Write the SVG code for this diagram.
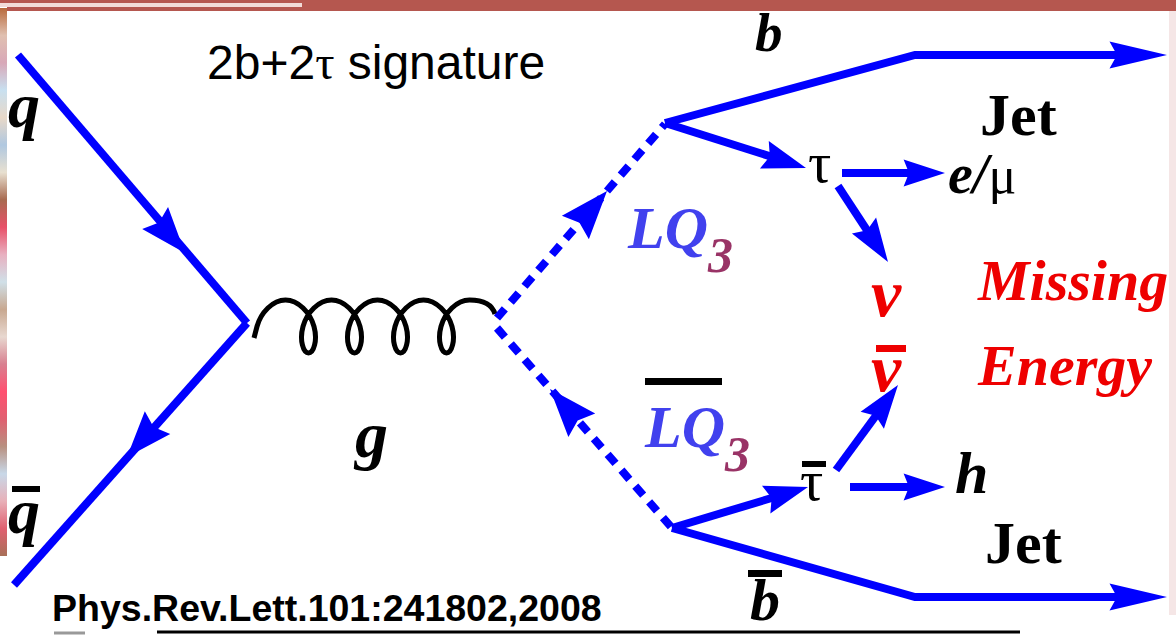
<svg xmlns="http://www.w3.org/2000/svg" width="1176" height="636" viewBox="0 0 1176 636">
<defs>
<style>
.ln{stroke:#0000ff;stroke-width:8;fill:none}
.ds{stroke:#0000ff;stroke-width:8;fill:none;stroke-dasharray:12 9}
.ah{fill:#0000ff}
.bi{font-family:"Liberation Serif",serif;font-weight:bold;font-style:italic;fill:#000}
.rd{fill:#ee0000}
.lq{font-family:"Liberation Serif",serif;font-style:italic;font-weight:bold;fill:#4141ee}
.sub{fill:#993366}
.tau{font-family:"Liberation Serif",serif;fill:#000}
.jet{font-family:"Liberation Serif",serif;font-weight:bold;fill:#000}
.bar{fill:#000}
</style>
<path id="ah" d="M0,0 L-46,-17 L-40,0 L-46,17 Z"/>
<linearGradient id="lg" x1="0" y1="0" x2="0" y2="1">
<stop offset="0" stop-color="#b86a3c"/><stop offset="0.05" stop-color="#e0c0b0"/><stop offset="0.1" stop-color="#d8a8b8"/>
<stop offset="0.15" stop-color="#c8e0f0"/><stop offset="0.2" stop-color="#e8d8c8"/><stop offset="0.25" stop-color="#b0c8e0"/>
<stop offset="0.3" stop-color="#e8e0d0"/><stop offset="0.35" stop-color="#a86a50"/><stop offset="0.4" stop-color="#e85068"/>
<stop offset="0.45" stop-color="#e8b0c0"/><stop offset="0.5" stop-color="#d0e0e8"/><stop offset="0.55" stop-color="#c8a890"/>
<stop offset="0.6" stop-color="#e8d8d0"/><stop offset="0.65" stop-color="#d88090"/><stop offset="0.7" stop-color="#ff5070"/>
<stop offset="0.75" stop-color="#e06070"/><stop offset="0.8" stop-color="#b89080"/><stop offset="0.85" stop-color="#c8d8e8"/>
<stop offset="0.9" stop-color="#e8b0b8"/><stop offset="0.95" stop-color="#e06070"/><stop offset="1" stop-color="#a87058"/>
</linearGradient>
</defs>
<rect x="0" y="0" width="1176" height="636" fill="#ffffff"/>
<g id="frame">
<rect x="0" y="0" width="1176" height="3" fill="#b5574f"/>
<rect x="0" y="3" width="302" height="4" fill="#f2dcd8"/>
<rect x="7" y="7" width="295" height="4" fill="#b5574f"/>
<rect x="302" y="0" width="874" height="11" fill="#b5574f"/>
<rect x="0" y="8" width="7" height="548" fill="url(#lg)"/>
<rect x="1169" y="11" width="7" height="604" fill="#f5e6e6"/>
</g>
<g id="connectors">
<path class="ln" d="M18,55 L247,323"/>
<use href="#ah" class="ah" transform="translate(185,253) rotate(49.5)"/>
<path class="ln" d="M247,323 L14,585"/>
<use href="#ah" class="ah" transform="translate(127,457) rotate(131.6)"/>
<path d="M254,338 L257,326.5 C260.83,312.62 272.77,300 285.5,300 C298.23,300 310.17,312.62 314,326.5 C317.83,340.38 313.57,353 308.5,353 C303.43,353 299.17,340.38 303,326.5 C306.83,312.62 318.77,300 331.5,300 C344.23,300 356.17,312.62 360,326.5 C363.83,340.38 359.57,353 354.5,353 C349.43,353 345.17,340.38 349,326.5 C352.83,312.62 364.77,300 377.5,300 C390.23,300 402.17,312.62 406,326.5 C409.83,340.38 405.57,353 400.5,353 C395.43,353 391.17,340.38 395,326.5 C398.83,312.62 410.77,300 423.5,300 C436.23,300 448.17,312.62 452,326.5 C455.83,340.38 451.57,353 446.5,353 C441.43,353 437.17,340.38 441,326.5 C444.83,312.62 456.77,300 469.5,300 C482,300 492,304 495,314" fill="none" stroke="#000" stroke-width="5"/>
<path class="ds" d="M497,318 L665,124"/>
<use href="#ah" class="ah" transform="translate(607,191) rotate(-49.1) scale(1.05)"/>
<path class="ds" d="M497,328 L672,528"/>
<use href="#ah" class="ah" transform="translate(550,389) rotate(-131.2) scale(1.05)"/>
<path class="ln" d="M665,123 L915,55 L1120,55"/>
<use href="#ah" class="ah" transform="translate(1167,55) scale(1.25,0.8)"/>
<path class="ln" d="M672,528 L915,597 L1120,597"/>
<use href="#ah" class="ah" transform="translate(1167,597) scale(1.25,0.8)"/>
<path class="ln" d="M665,123 L785,161"/>
<use href="#ah" class="ah" transform="translate(806,168) rotate(17.7) scale(0.95,0.85)"/>
<path class="ln" d="M842,173 L912,173"/>
<use href="#ah" class="ah" transform="translate(945,173) scale(0.9,0.8)"/>
<path class="ln" d="M838,186 L876,244"/>
<use href="#ah" class="ah" transform="translate(888,262) rotate(56.7) scale(0.95,0.85)"/>
<path class="ln" d="M672,528 L785,494"/>
<use href="#ah" class="ah" transform="translate(808,487) rotate(-16.8) scale(0.95,0.85)"/>
<path class="ln" d="M836,470 L886,402"/>
<use href="#ah" class="ah" transform="translate(898,385) rotate(-53.9) scale(0.95,0.85)"/>
<path class="ln" d="M850,487 L912,487"/>
<use href="#ah" class="ah" transform="translate(945,487) scale(0.9,0.8)"/>
</g>
<g id="title"><text x="207" y="79" font-family="Liberation Sans, sans-serif" font-size="48" fill="#000">2b+2<tspan font-family="Liberation Serif, serif">τ</tspan> signature</text></g>
<g id="q"><text class="bi" x="8" y="127" font-size="64">q</text></g>
<g id="qbar"><rect class="bar" x="12" y="486" width="28" height="6"/><text class="bi" x="8" y="533" font-size="64">q</text></g>
<g id="g"><text class="bi" x="355" y="457" font-size="66">g</text></g>
<g id="lq3"><text class="lq" x="628" y="248" font-size="60">LQ<tspan class="sub" font-size="50" dy="24">3</tspan></text></g>
<g id="lq3bar"><rect class="bar" x="645" y="378" width="77" height="7"/><text class="lq" x="645" y="447" font-size="60">LQ<tspan class="sub" font-size="50" dy="24">3</tspan></text></g>
<g id="b"><text class="bi" x="755" y="51" font-size="55">b</text></g>
<g id="jet1"><text class="jet" x="980" y="135" font-size="60">Jet</text></g>
<g id="tau"><text class="tau" x="808" y="182" font-size="58">τ</text></g>
<g id="emu"><text x="948" y="193"><tspan class="bi" font-size="56">e/</tspan><tspan class="tau" font-size="52">μ</tspan></text></g>
<g id="nu"><text class="bi rd" x="871" y="316" font-size="68">ν</text></g>
<g id="nubar"><rect x="876" y="345" width="30" height="7" fill="#ee0000"/><text class="bi rd" x="871" y="391" font-size="68">ν</text></g>
<g id="missing"><text class="bi rd" x="978" y="300" font-size="58">Missing</text><text class="bi rd" x="978" y="385" font-size="58">Energy</text></g>
<g id="taubar"><rect class="bar" x="802" y="461" width="24" height="6"/><text class="tau" x="800" y="500" font-size="58">τ</text></g>
<g id="h"><text class="bi" x="955" y="493" font-size="60">h</text></g>
<g id="jet2"><text class="jet" x="985" y="563" font-size="60">Jet</text></g>
<g id="bbar"><rect class="bar" x="748" y="570" width="34" height="7"/><text class="bi" x="750" y="620" font-size="60">b</text></g>
<g id="ref"><text x="52" y="621" font-family="Liberation Sans, sans-serif" font-weight="bold" font-size="37.5" fill="#000">Phys.Rev.Lett.101:241802,2008</text>
<line x1="157" y1="632" x2="1020" y2="632" stroke="#000" stroke-width="3"/>
<line x1="54" y1="633" x2="85" y2="633" stroke="#999" stroke-width="3"/></g>
</svg>
